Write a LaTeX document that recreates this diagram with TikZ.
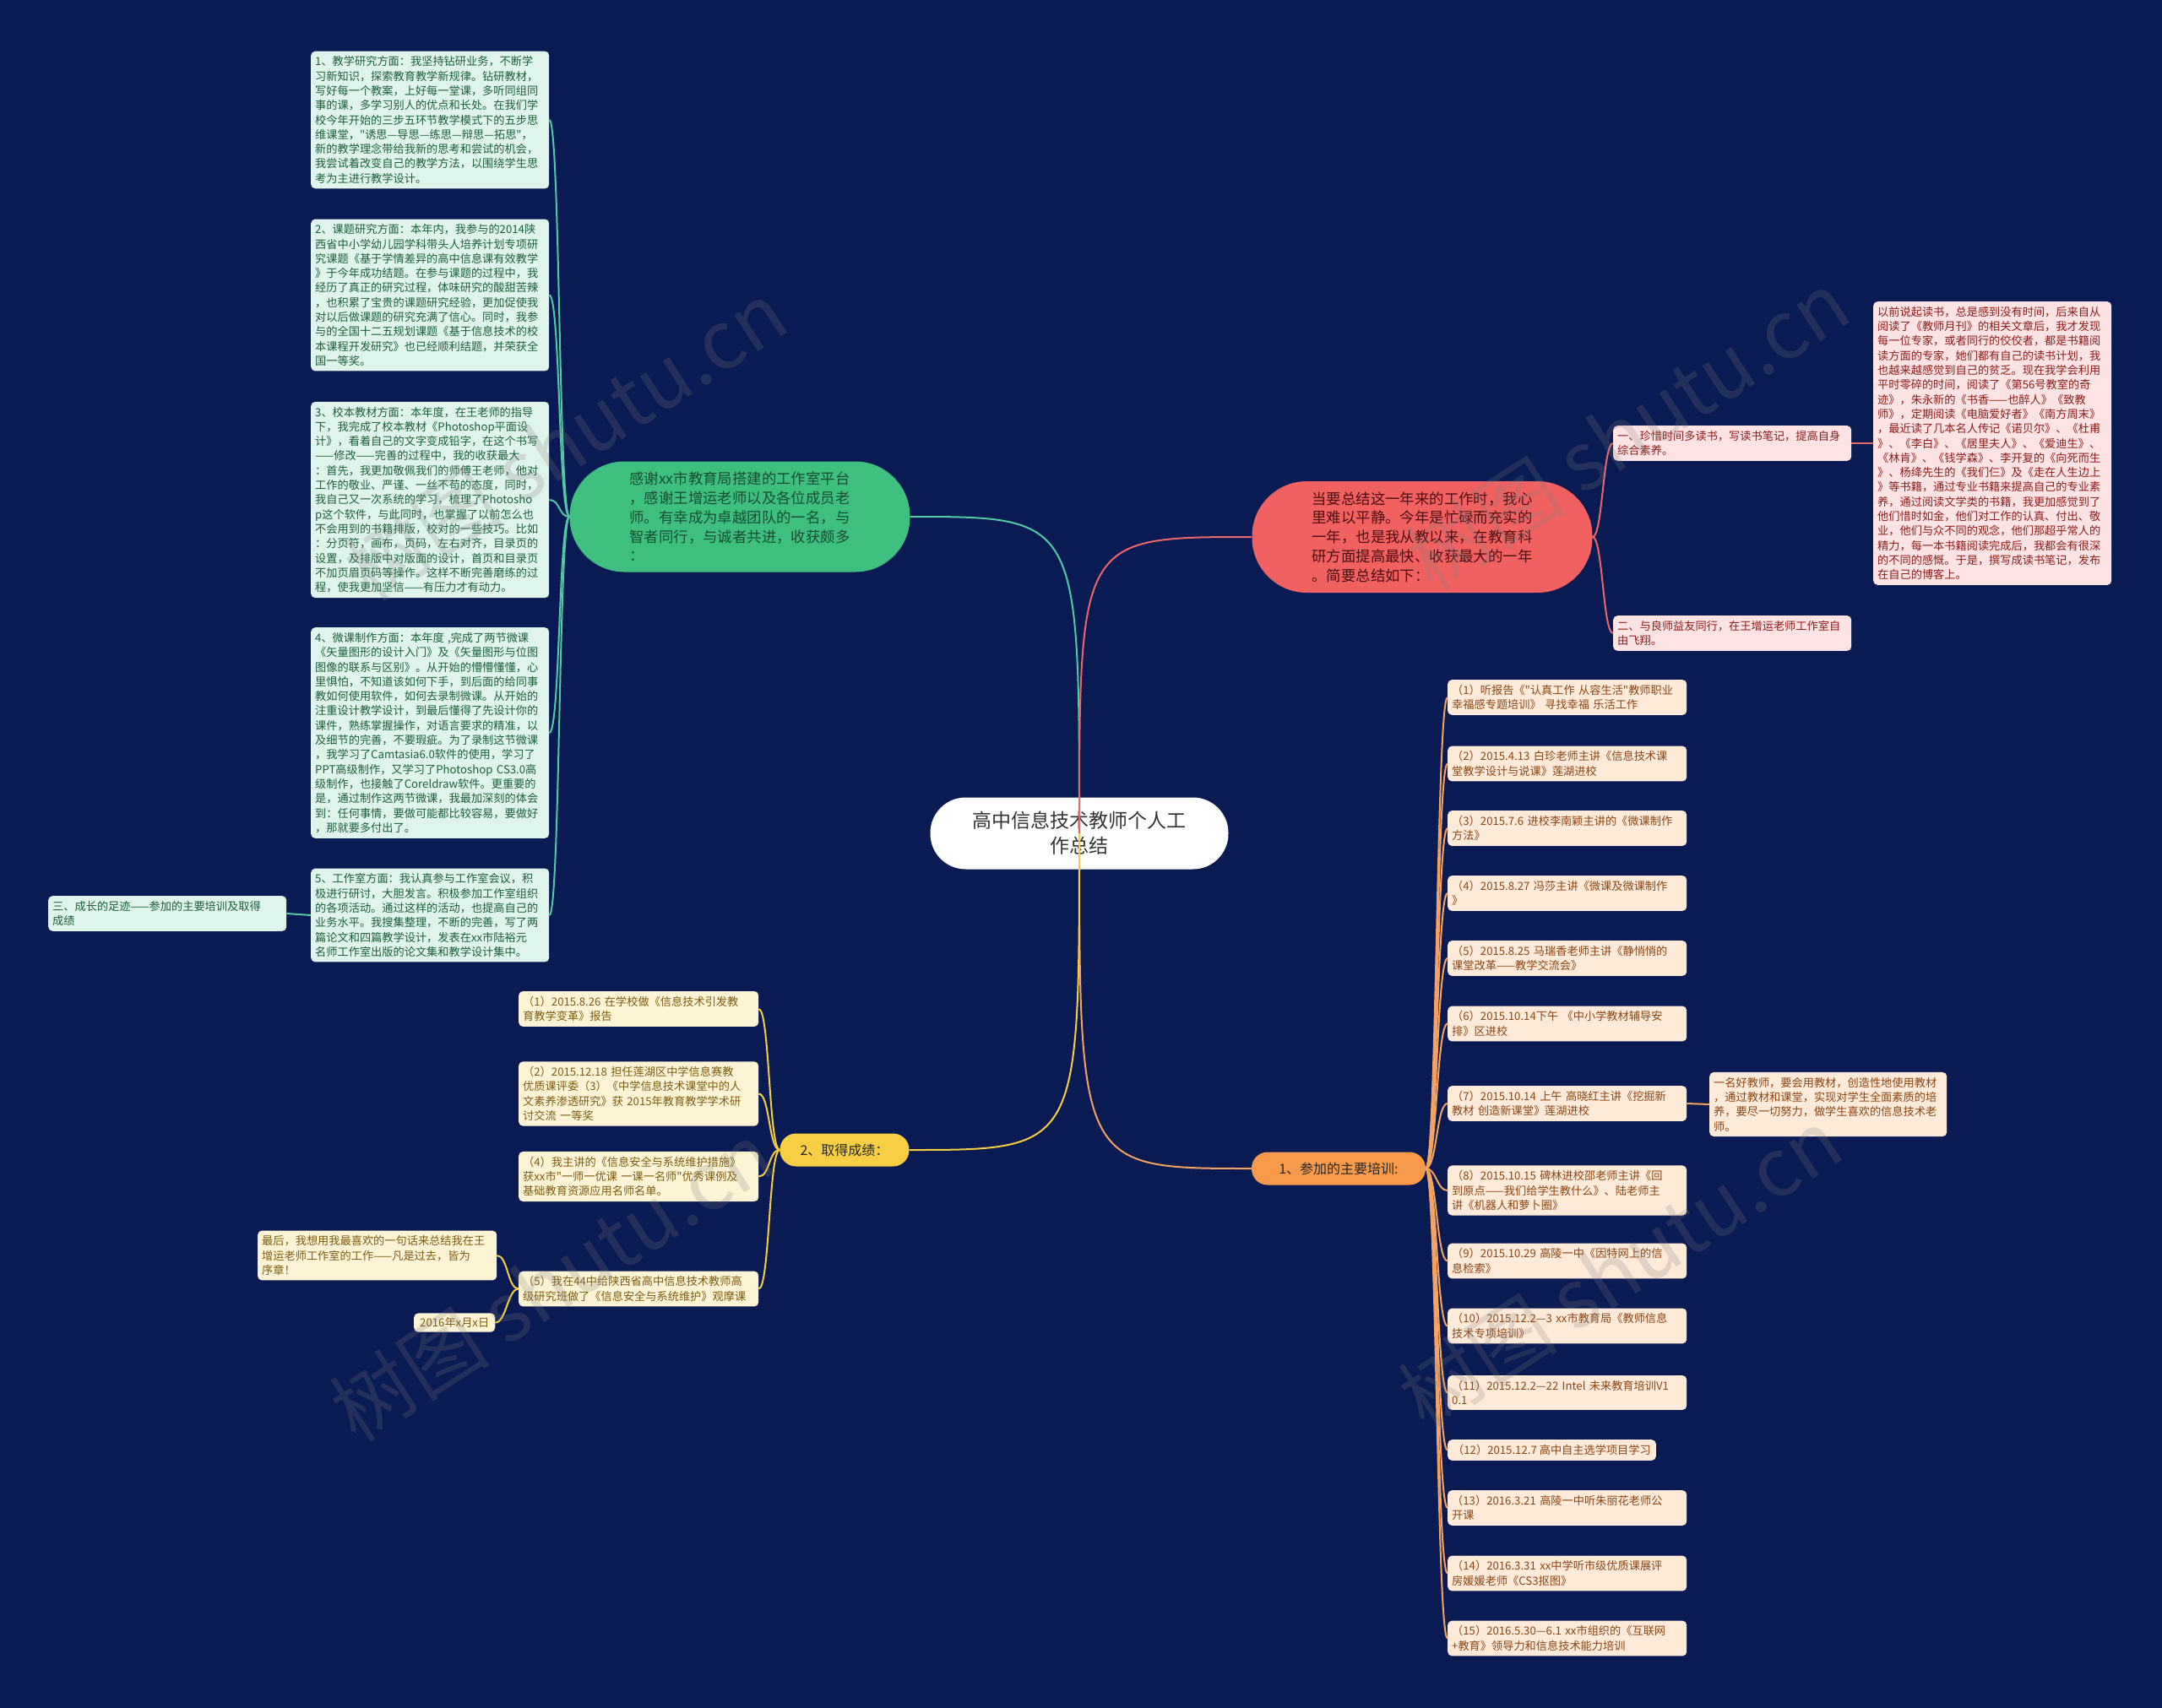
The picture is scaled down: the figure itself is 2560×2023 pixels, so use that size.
\documentclass[tikz,border=0pt]{standalone}
\usepackage{fontspec}
\newfontfamily\cjk{Noto Sans CJK SC}
\definecolor{bgc}{HTML}{0A1A52}
\definecolor{tF}{HTML}{DFF4EA}
\definecolor{tT}{HTML}{1B5E3F}
\definecolor{pF}{HTML}{FDE3E3}
\definecolor{pT}{HTML}{8C1C1C}
\definecolor{oF}{HTML}{FDEAD8}
\definecolor{oT}{HTML}{8B4513}
\definecolor{yF}{HTML}{FDF4D6}
\definecolor{yT}{HTML}{7B5B12}
\definecolor{cTeal}{HTML}{52C9A0}
\definecolor{cRed}{HTML}{E9676B}
\definecolor{cOr}{HTML}{F4A261}
\definecolor{cYel}{HTML}{F5CE45}
\definecolor{gNode}{HTML}{3FBF7F}
\definecolor{gText}{HTML}{134E2E}
\definecolor{rNode}{HTML}{F26161}
\definecolor{rText}{HTML}{4A0D0D}
\definecolor{oNode}{HTML}{F79A4B}
\definecolor{yNode}{HTML}{F6CF45}
\tikzset{
  txt/.style={font=\cjk\fontsize{13.2}{17.3}\selectfont, align=left, rounded corners=5pt, inner xsep=5pt, inner ysep=6pt, anchor=west},
  tbox/.style={txt, fill=tF, text=tT, text width=272pt},
  pbox/.style={txt, fill=pF, text=pT, text width=272pt},
  obox/.style={txt, fill=oF, text=oT, text width=273pt},
  ybox/.style={txt, fill=yF, text=yT, text width=274pt},
  tl/.style={draw=cTeal, line width=2pt},
  rl/.style={draw=cRed, line width=2pt},
  ol/.style={draw=cOr, line width=2pt},
  yl/.style={draw=cYel, line width=2pt},
  wm/.style={font=\cjk\fontsize{95}{95}\selectfont, text=gray, opacity=0.22, rotate=33}
}
\begin{document}
\begin{tikzpicture}[x=1pt,y=-1pt]
\useasboundingbox (0,0) rectangle (2560,2023);
\fill[bgc] (0,0) rectangle (2560,2023);

% main nodes
\node[fill=white, text=black!80, rounded corners=42pt, minimum width=353pt, minimum height=85pt, align=center, font=\cjk\fontsize{23}{30}\selectfont] (c) at (1278,987) {高中信息技术教师个人工\\作总结};
\node[fill=gNode, text=gText, rounded corners=65pt, minimum width=403pt, minimum height=131pt, align=left, font=\cjk\fontsize{17.4}{22.8}\selectfont] (g) at (876,612) {感谢xx市教育局搭建的工作室平台\\，感谢王增运老师以及各位成员老\\师。有幸成为卓越团队的一名，与\\智者同行，与诚者共进，收获颇多\\：};
\node[fill=rNode, text=rText, rounded corners=65pt, minimum width=403pt, minimum height=132pt, align=left, font=\cjk\fontsize{17.4}{22.8}\selectfont] (r) at (1684,636) {当要总结这一年来的工作时，我心\\里难以平静。今年是忙碌而充实的\\一年，也是我从教以来，在教育科\\研方面提高最快、收获最大的一年\\。简要总结如下：};
\node[fill=oNode, text=black!85, rounded corners=19pt, minimum width=206pt, minimum height=39pt, font=\cjk\fontsize{16}{20}\selectfont] (o) at (1585,1384) {1、参加的主要培训:};
\node[fill=yNode, text=black!85, rounded corners=19pt, minimum width=153pt, minimum height=39pt, font=\cjk\fontsize{16}{20}\selectfont] (yl) at (1000,1362) {2、取得成绩：};

% left teal boxes
\node[tbox] (b1) at (368,142) {1、教学研究方面：我坚持钻研业务，不断学\\习新知识，探索教育教学新规律。钻研教材，\\写好每一个教案，上好每一堂课，多听同组同\\事的课，多学习别人的优点和长处。在我们学\\校今年开始的三步五环节教学模式下的五步思\\维课堂，"诱思—导思—练思—辩思—拓思"，\\新的教学理念带给我新的思考和尝试的机会，\\我尝试着改变自己的教学方法，以围绕学生思\\考为主进行教学设计。};
\node[tbox] (b2) at (368,349.5) {2、课题研究方面：本年内，我参与的2014陕\\西省中小学幼儿园学科带头人培养计划专项研\\究课题《基于学情差异的高中信息课有效教学\\》于今年成功结题。在参与课题的过程中，我\\经历了真正的研究过程，体味研究的酸甜苦辣\\，也积累了宝贵的课题研究经验，更加促使我\\对以后做课题的研究充满了信心。同时，我参\\与的全国十二五规划课题《基于信息技术的校\\本课程开发研究》也已经顺利结题，并荣获全\\国一等奖。};
\node[tbox] (b3) at (368,592) {3、校本教材方面：本年度，在王老师的指导\\下，我完成了校本教材《Photoshop平面设\\计》，看着自己的文字变成铅字，在这个书写\\——修改——完善的过程中，我的收获最大\\：首先，我更加敬佩我们的师傅王老师，他对\\工作的敬业、严谨、一丝不苟的态度，同时，\\我自己又一次系统的学习，梳理了Photosho\\p这个软件，与此同时，也掌握了以前怎么也\\不会用到的书籍排版，校对的一些技巧。比如\\：分页符，画布，页码，左右对齐，目录页的\\设置，及排版中对版面的设计，首页和目录页\\不加页眉页码等操作。这样不断完善磨练的过\\程，使我更加坚信——有压力才有动力。};
\node[tbox] (b4) at (368,868) {4、微课制作方面：本年度 ,完成了两节微课\\《矢量图形的设计入门》及《矢量图形与位图\\图像的联系与区别》。从开始的懵懵懂懂，心\\里惧怕，不知道该如何下手，到后面的给同事\\教如何使用软件，如何去录制微课。从开始的\\注重设计教学设计，到最后懂得了先设计你的\\课件，熟练掌握操作，对语言要求的精准，以\\及细节的完善，不要瑕疵。为了录制这节微课\\，我学习了Camtasia6.0软件的使用，学习了\\PPT高级制作，又学习了Photoshop CS3.0高\\级制作，也接触了Coreldraw软件。更重要的\\是，通过制作这两节微课，我最加深刻的体会\\到：任何事情，要做可能都比较容易，要做好\\，那就要多付出了。};
\node[tbox] (b5) at (368,1084) {5、工作室方面：我认真参与工作室会议，积\\极进行研讨，大胆发言。积极参加工作室组织\\的各项活动。通过这样的活动，也提高自己的\\业务水平。我搜集整理，不断的完善，写了两\\篇论文和四篇教学设计，发表在xx市陆裕元\\名师工作室出版的论文集和教学设计集中。};
\node[tbox] (b6) at (57,1082) {三、成长的足迹——参加的主要培训及取得\\成绩};

% red branch
\node[pbox] (p1) at (1910,525) {一、珍惜时间多读书，写读书笔记，提高自身\\综合素养。};
\node[pbox] (p2) at (1910,750) {二、与良师益友同行，在王增运老师工作室自\\由飞翔。};
\node[pbox] (p3) at (2218,525) {以前说起读书，总是感到没有时间，后来自从\\阅读了《教师月刊》的相关文章后，我才发现\\每一位专家，或者同行的佼佼者，都是书籍阅\\读方面的专家，她们都有自己的读书计划，我\\也越来越感觉到自己的贫乏。现在我学会利用\\平时零碎的时间，阅读了《第56号教室的奇\\迹》，朱永新的《书香——也醉人》《致教\\师》，定期阅读《电脑爱好者》《南方周末》\\，最近读了几本名人传记《诺贝尔》、《杜甫\\》、《李白》、《居里夫人》、《爱迪生》、\\《林肯》、《钱学森》、李开复的《向死而生\\》、杨绛先生的《我们仨》及《走在人生边上\\》等书籍，通过专业书籍来提高自己的专业素\\养，通过阅读文学类的书籍，我更加感觉到了\\他们惜时如金，他们对工作的认真、付出、敬\\业，他们与众不同的观念，他们那超乎常人的\\精力，每一本书籍阅读完成后，我都会有很深\\的不同的感慨。于是，撰写成读书笔记，发布\\在自己的博客上。};

% orange branch
\node[obox] (o1) at (1714,826) {（1）听报告《"认真工作 从容生活"教师职业\\幸福感专题培训》 寻找幸福 乐活工作};
\node[obox] (o2) at (1714,904.5) {（2）2015.4.13 白珍老师主讲《信息技术课\\堂教学设计与说课》莲湖进校};
\node[obox] (o3) at (1714,981) {（3）2015.7.6 进校李南颖主讲的《微课制作\\方法》};
\node[obox] (o4) at (1714,1058) {（4）2015.8.27 冯莎主讲《微课及微课制作\\》};
\node[obox] (o5) at (1714,1135) {（5）2015.8.25 马瑞香老师主讲《静悄悄的\\课堂改革——教学交流会》};
\node[obox] (o6) at (1714,1212.5) {（6）2015.10.14下午 《中小学教材辅导安\\排》区进校};
\node[obox] (o7) at (1714,1307) {（7）2015.10.14 上午 高晓红主讲《挖掘新\\教材 创造新课堂》莲湖进校};
\node[obox] (o8) at (1714,1410) {（8）2015.10.15 碑林进校邵老师主讲《回\\到原点——我们给学生教什么》、陆老师主\\讲《机器人和萝卜圈》};
\node[obox] (o9) at (1714,1493.5) {（9）2015.10.29 高陵一中《因特网上的信\\息检索》};
\node[obox] (o10) at (1714,1570.5) {（10）2015.12.2—3 xx市教育局《教师信息\\技术专项培训》};
\node[obox] (o11) at (1714,1649.5) {（11）2015.12.2—22 Intel 未来教育培训V1\\0.1};
\node[txt, fill=oF, text=oT, inner xsep=6pt] (o12) at (1714,1717.5) {（12）2015.12.7 高中自主选学项目学习};
\node[obox] (o13) at (1714,1786) {（13）2016.3.21 高陵一中听朱丽花老师公\\开课};
\node[obox] (o14) at (1714,1863.5) {（14）2016.3.31 xx中学听市级优质课展评\\房媛媛老师《CS3抠图》};
\node[obox] (o15) at (1714,1940.5) {（15）2016.5.30—6.1 xx市组织的《互联网\\+教育》领导力和信息技术能力培训};
\node[obox, text width=271pt] (o7a) at (2024,1308) {一名好教师，要会用教材，创造性地使用教材\\，通过教材和课堂，实现对学生全面素质的培\\养，要尽一切努力，做学生喜欢的信息技术老\\师。};

% yellow branch
\node[ybox] (y1) at (614,1195) {（1）2015.8.26 在学校做《信息技术引发教\\育教学变革》报告};
\node[ybox] (y2) at (614,1295.5) {（2）2015.12.18 担任莲湖区中学信息赛教\\优质课评委（3）《中学信息技术课堂中的人\\文素养渗透研究》获 2015年教育教学学术研\\讨交流 一等奖};
\node[ybox] (y4) at (614,1393.5) {（4）我主讲的《信息安全与系统维护措施》\\获xx市"一师一优课 一课一名师"优秀课例及\\基础教育资源应用名师名单。};
\node[ybox] (y5) at (614,1526.5) {（5）我在44中给陕西省高中信息技术教师高\\级研究班做了《信息安全与系统维护》观摩课};
\node[ybox, text width=273pt] (y6) at (305,1487) {最后，我想用我最喜欢的一句话来总结我在王\\增运老师工作室的工作——凡是过去，皆为\\序章！};
\node[txt, fill=yF, text=yT, inner xsep=7pt, inner ysep=5pt] (y7) at (490,1566.5) {2016年x月x日};

% connectors from centre
\draw[tl] (c.center) .. controls (c.center |- g.east) and (c.center |- g.east) .. (g.east);
\draw[rl] (c.center) .. controls (c.center |- r.west) and (c.center |- r.west) .. (r.west);
\draw[ol] (c.center) .. controls (c.center |- o.west) and (c.center |- o.west) .. (o.west);
\draw[yl] (c.center) .. controls (c.center |- yl.east) and (c.center |- yl.east) .. (yl.east);

% teal bracket
\foreach \n in {b1,b2,b3,b4,b5}
  \draw[tl] (g.west) .. controls +(-13,0) and +(13,0) .. (\n.east);
\draw[tl] (b5.west) -- (b6.east);

% red bracket
\foreach \n in {p1,p2}
  \draw[rl] (r.east) .. controls +(12,0) and +(-12,0) .. (\n.west);
\draw[rl] (p1.east) -- (p3.west);

% orange bracket
\foreach \n in {o1,o2,o3,o4,o5,o6,o7,o8,o9,o10,o11,o12,o13,o14,o15}
  \draw[ol] (o.east) .. controls +(13,0) and +(-13,0) .. (\n.west);
\draw[ol] (o7.east) -- (o7a.west);

% yellow bracket
\foreach \n in {y1,y2,y4,y5}
  \draw[yl] (yl.west) .. controls +(-13,0) and +(13,0) .. (\n.east);
\foreach \n in {y6,y7}
  \draw[yl] (y5.west) .. controls +(-13,0) and +(13,0) .. (\n.east);

% watermarks
\node[wm] (w1) at (669,522) {树图 shutu.cn};
\node[wm] (w2) at (1927,510) {树图 shutu.cn};
\node[wm] (w3) at (653,1518) {树图 shutu.cn};
\node[wm] (w4) at (1918,1502) {树图 shutu.cn};
\end{tikzpicture}
\end{document}
